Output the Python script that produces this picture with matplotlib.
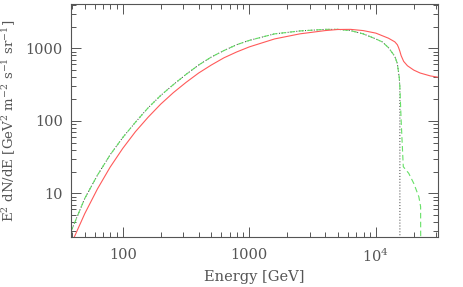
import matplotlib
matplotlib.use("Agg")
import matplotlib.pyplot as plt
from matplotlib.ticker import FixedLocator, FixedFormatter, LogLocator, NullFormatter

# ---- data (E in GeV, E^2 dN/dE) ----
energy_red = [39.8, 50.1, 63.1, 79.4, 100, 125.9, 158.5, 199.5, 251.2, 316.2,
              398.1, 501.2, 631, 794.3, 1000, 1585, 2512, 3981, 5012, 6310,
              7943, 10000, 12589, 14125, 14791, 15136, 15488, 15849, 16596,
              17783, 19953, 22387, 26915, 31623]
flux_red = [2.14, 5.25, 11.5, 22.9, 41.7, 70.8, 112, 170, 245, 339,
            457, 589, 741, 891, 1047, 1349, 1585, 1758, 1820, 1828,
            1758, 1622, 1380, 1230, 1122, 1023, 912, 794, 661,
            575, 501, 457, 417, 398]

energy_green = [38.9, 50.1, 63.1, 79.4, 100, 125.9, 158.5, 199.5, 251.2, 316.2,
                398.1, 501.2, 631, 794.3, 1000, 1585, 2512, 3981, 5012, 6310,
                7943, 10000, 11220, 12589, 14125, 14791, 15311, 15488,
                15849, 16482, 18197, 19953, 21878, 22594, 22650]
flux_green = [2.95, 8.51, 17.8, 33.9, 58.9, 95.5, 151, 224, 316, 437,
              589, 759, 933, 1122, 1288, 1585, 1738, 1828, 1828, 1758,
              1585, 1349, 1230, 1023, 776, 617, 398, 295,
              102, 23.3, 18.9, 13.7, 8.97, 6.53, 1.0]

energy_dotted = [38.9, 50.1, 63.1, 79.4, 100, 125.9, 158.5, 199.5, 251.2, 316.2,
                 398.1, 501.2, 631, 794.3, 1000, 1585, 2512, 3981, 5012, 6310,
                 7943, 10000, 11220, 12589, 14125, 14791, 15311, 15488, 15500]
flux_dotted = [2.95, 8.51, 17.8, 33.9, 58.9, 95.5, 151, 224, 316, 437,
               589, 759, 933, 1122, 1288, 1585, 1738, 1828, 1828, 1758,
               1585, 1349, 1230, 1023, 776, 617, 398, 295, 1.0]

x_ticks = [100, 1000, 10000]
x_ticklabels = ["100", "1000", r"10$^4$"]
y_ticks = [10, 100, 1000]
y_ticklabels = ["10", "100", "1000"]

grey = "#555555"
plt.rcParams["font.family"] = ["DejaVu Serif"]
plt.rcParams["mathtext.fontset"] = "dejavuserif"

fig = plt.figure(figsize=(4.63, 2.87), dpi=100)
ax = fig.add_axes([71 / 463, 1 - 237 / 287, (438 - 71) / 463, (237 - 4) / 287])

ax.plot(energy_dotted, flux_dotted, color="#333333", lw=0.7, ls=(0, (1, 2)))
ax.plot(energy_green, flux_green, color="#66e066", lw=0.8, ls=(0, (5, 3)))
ax.plot(energy_red, flux_red, color="#ff5a5a", lw=0.8)

ax.set_xscale("log")
ax.set_yscale("log")
ax.set_xlim(39, 31000)
ax.set_ylim(2.5, 4090)

ax.xaxis.set_major_locator(FixedLocator(x_ticks))
ax.xaxis.set_major_formatter(FixedFormatter(x_ticklabels))
ax.yaxis.set_major_locator(FixedLocator(y_ticks))
ax.yaxis.set_major_formatter(FixedFormatter(y_ticklabels))
ax.xaxis.set_minor_locator(LogLocator(base=10, subs=range(2, 10)))
ax.yaxis.set_minor_locator(LogLocator(base=10, subs=range(2, 10)))
ax.xaxis.set_minor_formatter(NullFormatter())
ax.yaxis.set_minor_formatter(NullFormatter())

ax.tick_params(which="both", direction="in", top=True, right=True,
               color=grey, labelcolor=grey, labelsize=10.5)
ax.tick_params(which="major", length=7, width=0.7)
ax.tick_params(axis="x", which="major", pad=8)
ax.tick_params(axis="y", which="major", pad=6)
ax.tick_params(which="minor", length=3.5, width=0.7)
for s in ax.spines.values():
    s.set_color(grey)
    s.set_linewidth(0.8)

ax.set_xlabel("Energy [GeV]", color=grey, fontsize=10.5, labelpad=3)
ax.set_ylabel(r"E$^2$ dN/dE [GeV$^2$ m$^{-2}$ s$^{-1}$ sr$^{-1}$]",
              color=grey, fontsize=9.6, labelpad=6)
ax.yaxis.set_label_coords(-0.145, 0.5)

fig.savefig("out.png", dpi=100)
